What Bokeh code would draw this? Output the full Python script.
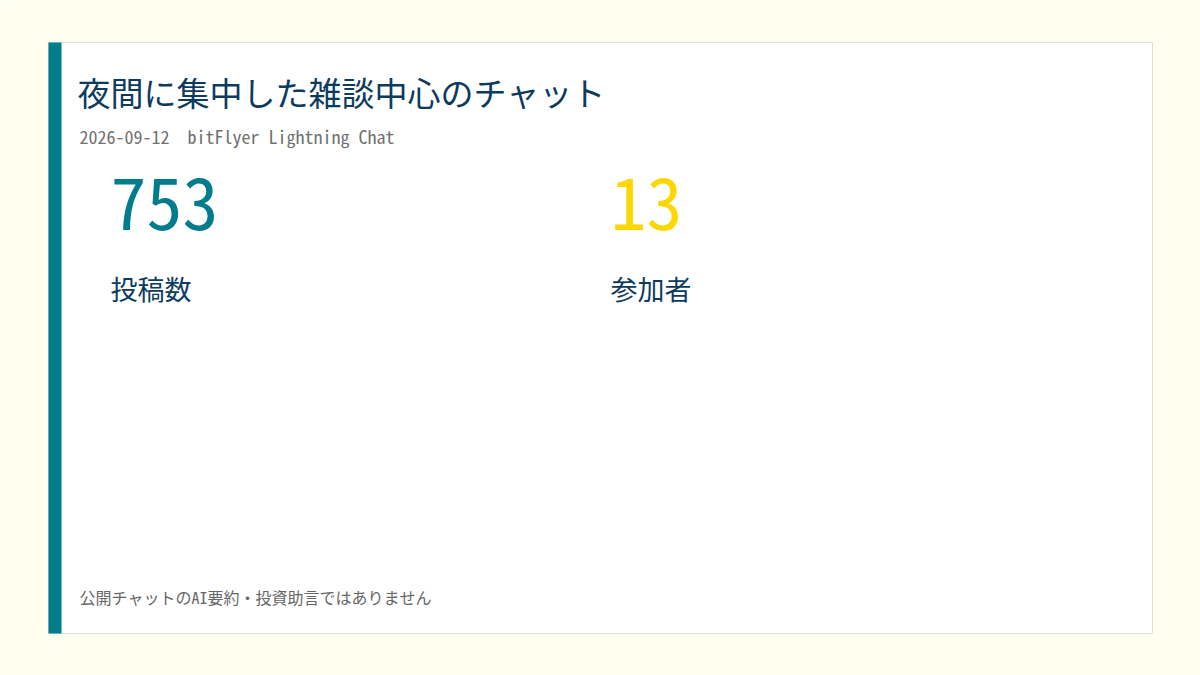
from bokeh.plotting import figure
from bokeh.models import Range1d, ColumnDataSource
from bokeh.core.properties import value
from bokeh.embed import file_html
from bokeh.resources import INLINE

# ---- data ----
title_text = ["夜間に集中した雑談中心のチャット"]
subtitle_text = ["2026-09-12\u00a0\u00a0bitFlyer Lightning Chat"]
metric_values = [753, 13]
metric_labels = ["投稿数", "参加者"]
footer_text = ["公開チャットのAI要約・投資助言ではありません"]

# ---- layout / style (kept separate from data) ----
W, H = 1200, 675
BG = "#fffff0"
TEAL = "#007c8c"
GOLD = "#ffd700"
NAVY = "#0d3b5e"
GRAY = "#666666"
SUBGRAY = "#707070"
metric_colors = [TEAL, GOLD]
metric_x = [110, 610]
MONO = "Noto Sans Mono CJK JP, Noto Sans CJK JP, monospace"
SANS = "Noto Sans CJK JP"

p = figure(width=W, height=H, x_range=Range1d(0, W), y_range=Range1d(H, 0),
           output_backend="svg", toolbar_location=None,
           x_axis_type=None, y_axis_type=None, min_border=0)
p.background_fill_color = BG
p.border_fill_color = BG
p.outline_line_color = None
p.grid.visible = False

# card
p.quad(left=[48], right=[1152], top=[42], bottom=[633],
       fill_color="white", line_color="#dddddd", line_width=1)
# accent bar
p.quad(left=[48], right=[61], top=[42], bottom=[633],
       fill_color=TEAL, line_color=None)

# title
p.text(x=[77], y=[91], text=title_text, text_font=value(SANS),
       text_font_size="33px", text_color=NAVY, text_baseline="middle")
# subtitle
p.text(x=[79], y=[135.5], text=subtitle_text, text_font=value(MONO),
       text_font_size="18px", text_color=SUBGRAY, text_baseline="middle")

# metrics
src = ColumnDataSource(dict(
    x=metric_x,
    v=[str(v) for v in metric_values],
    lab=metric_labels,
    c=metric_colors,
))
p.text(x="x", y=202.5, text="v", source=src, text_font=value(MONO),
       text_font_size="72px", text_color="c", text_baseline="middle")
p.text(x="x", y=288, text="lab", source=src, text_font=value(SANS),
       text_font_size="27px", text_color=NAVY, text_baseline="middle")

# footer
p.text(x=[79], y=[596], text=footer_text, text_font=value(MONO),
       text_font_size="16px", text_color=GRAY, text_baseline="middle")

open("out.html", "w").write(file_html(p, INLINE))
